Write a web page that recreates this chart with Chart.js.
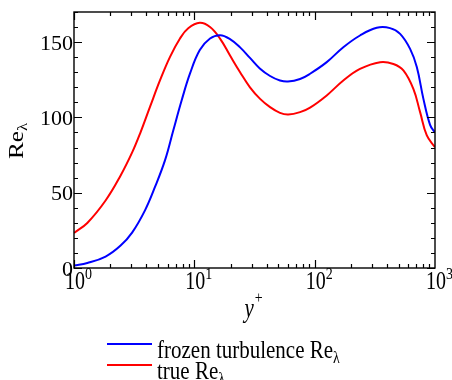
<!DOCTYPE html>
<html><head><meta charset="utf-8">
<script src="https://cdn.jsdelivr.net/npm/chart.js@4/dist/chart.umd.min.js"></script>
<style>html,body{margin:0;padding:0;background:#fff}#wrap{width:452px;height:380px}</style>
</head><body><div id="wrap"><canvas id="c" width="452" height="380"></canvas></div>
<script>
const yPlusFrozen = [1, 1.29, 1.83, 2.44, 3.05, 3.89, 4.71, 5.71, 6.69, 7.85, 9.21, 11.1, 13.5, 16.4, 19.8, 24, 29, 35, 42.6, 51.5, 60, 75.6, 91.6, 126, 173, 238, 328, 423, 513, 621, 706, 801, 910, 1000];
const frozenRe    = [1.6, 3.3, 7.6, 14.9, 23.7, 38.3, 53.8, 71.6, 91.5, 111.4, 129.2, 144.7, 152.4, 154.6, 152, 146.5, 139.5, 132.5, 127.5, 124.5, 123.8, 125.5, 129, 136.7, 146.6, 154.4, 159.5, 159.3, 155.5, 145.5, 133.4, 112.3, 95, 89.8];
const yPlusTrue   = [1, 1.29, 1.83, 2.44, 3.05, 3.54, 4.28, 5.19, 6.28, 7.6, 8.9, 11.1, 13.5, 16.4, 19.8, 24, 29, 35.2, 42.6, 51.5, 60.3, 75.6, 91.6, 126, 173, 238, 350, 451, 546, 661, 752, 855, 1000];
const trueRe      = [23.3, 29.9, 44.8, 61.4, 76.9, 89.3, 107, 124.7, 140.2, 152.4, 159.2, 162.8, 160, 152.2, 141.1, 130, 120, 112.3, 106.8, 103, 101.9, 103.5, 106.5, 114.6, 124.5, 132.2, 136.7, 135.5, 131.2, 118.9, 103.5, 88, 80.2];
const seriesNames = ['frozen turbulence Re', 'true Re'];
const seriesColors = ['#0000ff', '#ff0000'];
const xDecadeExponents = [0, 1, 2, 3];
const yTickLabels = [0, 50, 100, 150];
const yMinorStep = 10;
const xTitle = 'y';
const xTitleSup = '+';
const yTitle = 'Re';
const subLambda = 'λ';

const SERIF = '"Liberation Serif", "Times New Roman", serif';

function stretchText(ctx, text, x, y, sy) {
  ctx.save();
  ctx.translate(x, y);
  ctx.scale(1, sy);
  ctx.fillText(text, 0, 0);
  ctx.restore();
}

const drawPlugin = {
  id: 'drawPlugin',
  afterDraw(chart) {
    const ctx = chart.ctx;
    const {left, right, top, bottom} = chart.chartArea;
    const xs = chart.scales.x, ys = chart.scales.y;
    ctx.save();
    ctx.strokeStyle = '#000';
    ctx.lineWidth = 1.4;
    ctx.strokeRect(left, top, right - left, bottom - top);
    ctx.lineWidth = 1.2;
    ctx.beginPath();
    for (let e = xDecadeExponents[0]; e < xDecadeExponents[xDecadeExponents.length - 1]; e++) {
      for (let m = 1; m <= 9; m++) {
        const v = m * Math.pow(10, e);
        const px = Math.round(xs.getPixelForValue(v)) + 0.5;
        const len = m === 1 ? 8 : 4;
        ctx.moveTo(px, bottom); ctx.lineTo(px, bottom - len);
        ctx.moveTo(px, top); ctx.lineTo(px, top + len);
      }
    }
    for (let v = ys.min; v <= ys.max + 1e-9; v += yMinorStep) {
      const py = Math.round(ys.getPixelForValue(v)) + 0.5;
      const len = (v % 50 === 0) ? 8 : 4;
      ctx.moveTo(left, py); ctx.lineTo(left + len, py);
      ctx.moveTo(right, py); ctx.lineTo(right - len, py);
    }
    ctx.stroke();

    ctx.fillStyle = '#000';
    ctx.textBaseline = 'alphabetic';
    xDecadeExponents.forEach(e => {
      const px = xs.getPixelForValue(Math.pow(10, e));
      ctx.font = '20px ' + SERIF;
      ctx.textAlign = 'center';
      const w = ctx.measureText('10').width;
      stretchText(ctx, '10', px + 1, 289, 1.25);
      ctx.font = '14px ' + SERIF;
      ctx.textAlign = 'left';
      stretchText(ctx, String(e), px + 1 + w / 2, 279, 1.25);
    });
    ctx.font = '22px ' + SERIF;
    ctx.textAlign = 'right';
    yTickLabels.forEach(v => {
      ctx.fillText(String(v), left - 1, ys.getPixelForValue(v) + 7.5);
    });

    // y title
    ctx.save();
    ctx.translate(23, 141);
    ctx.rotate(-Math.PI / 2);
    ctx.textAlign = 'left';
    const sx = 1.2;
    ctx.font = '21px ' + SERIF;
    const wRe = ctx.measureText(yTitle).width;
    ctx.font = '14px ' + SERIF;
    const wL = ctx.measureText(subLambda).width;
    const start = -(wRe + wL) * sx / 2;
    ctx.translate(start, 0); ctx.scale(sx, 1);
    ctx.font = '21px ' + SERIF; ctx.fillText(yTitle, 0, 0);
    ctx.font = '14px ' + SERIF; ctx.fillText(subLambda, wRe, 4);
    ctx.restore();

    // x title
    ctx.textAlign = 'left';
    ctx.font = 'italic 21px ' + SERIF;
    const wy = ctx.measureText(xTitle).width;
    const cx = (left + right) / 2;
    stretchText(ctx, xTitle, cx - 10, 317, 1.25);
    ctx.font = '14px ' + SERIF;
    stretchText(ctx, xTitleSup, cx - 10 + wy + 1, 303, 1.25);

    // legend
    const rows = [344, 365];
    seriesNames.forEach((name, i) => {
      const ly = rows[i];
      ctx.strokeStyle = seriesColors[i];
      ctx.lineWidth = 2;
      ctx.beginPath();
      ctx.moveTo(107, ly); ctx.lineTo(152, ly);
      ctx.stroke();
      ctx.fillStyle = '#000';
      ctx.font = '21px ' + SERIF;
      ctx.textAlign = 'left';
      stretchText(ctx, name, 157, ly + 14, 1.2);
      const w = ctx.measureText(name).width;
      ctx.font = '14px ' + SERIF;
      stretchText(ctx, subLambda, 157 + w, ly + 19, 1.2);
    });
    ctx.restore();
  }
};

new Chart(document.getElementById('c'), {
  type: 'line',
  data: {
    datasets: [
      { label: seriesNames[0] + subLambda, data: yPlusFrozen.map((x, i) => ({x, y: frozenRe[i]})),
        borderColor: seriesColors[0], borderWidth: 2, pointRadius: 0, fill: false, tension: 0.4 },
      { label: seriesNames[1] + subLambda, data: yPlusTrue.map((x, i) => ({x, y: trueRe[i]})),
        borderColor: seriesColors[1], borderWidth: 2, pointRadius: 0, fill: false, tension: 0.4 }
    ]
  },
  options: {
    responsive: false,
    animation: false,
    layout: { padding: { left: 74, top: 12, right: 17, bottom: 112 } },
    plugins: { legend: { display: false }, tooltip: { enabled: false } },
    scales: {
      x: { type: 'logarithmic', min: 1, max: 1000,
           ticks: { display: false }, grid: { display: false }, border: { display: false },
           afterFit: s => { s.height = 0; } },
      y: { type: 'linear', min: 0, max: 170,
           ticks: { display: false, stepSize: 10 }, grid: { display: false }, border: { display: false },
           afterFit: s => { s.width = 0; } }
    }
  },
  plugins: [drawPlugin]
});
</script></body></html>
